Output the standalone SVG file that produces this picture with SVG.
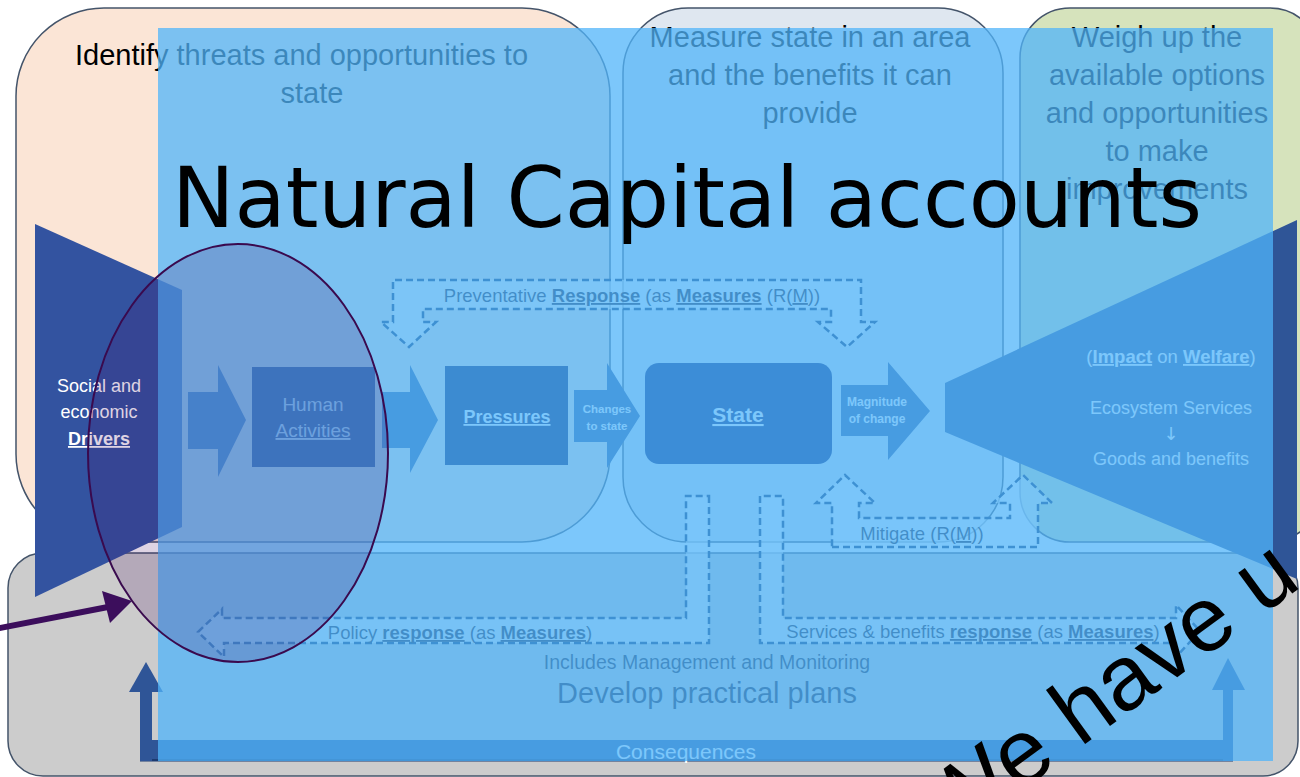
<svg xmlns="http://www.w3.org/2000/svg" width="1300" height="777" viewBox="0 0 1300 777">
<defs>
<style>
.pl{stroke:#44546a;stroke-width:1.5}
.hd{font-family:'Liberation Sans',Arial,sans-serif;font-size:29px;fill:#000;text-anchor:middle}
.nt{font-family:'Liberation Sans',Arial,sans-serif;fill:#fff;text-anchor:middle}
.fl{fill:#2f5597}
.bx{fill:#00105a}
.dl{fill:#fff;fill-opacity:.6;stroke:#0a2860;stroke-width:2.5;stroke-dasharray:7 4}
.lb{font-family:'Liberation Sans',Arial,sans-serif;font-size:18.5px;fill:#1a1a35;text-anchor:middle}
.u{text-decoration:underline}
.b{font-weight:bold}
</style>
</defs>
<rect width="1300" height="777" fill="#fff"/>
<g id="panel-plans"><rect class="pl" x="8" y="553" width="1290" height="223" rx="35" fill="#cccccc"/></g>
<g id="panel-identify"><rect class="pl" x="16" y="8" width="594" height="534" rx="88" fill="#fbe5d6"/>
<text class="hd" x="75" y="65" style="text-anchor:start">Identify threats and opportunities to</text>
<text class="hd" x="312" y="103">state</text></g>
<g id="panel-measure"><rect class="pl" x="623" y="8" width="380" height="534" rx="65" fill="#dfe7f0"/>
<text class="hd" x="810" y="47">Measure state in an area</text>
<text class="hd" x="810" y="85">and the benefits it can</text>
<text class="hd" x="810" y="123">provide</text></g>
<g id="panel-weigh"><rect class="pl" x="1020" y="8" width="300" height="534" rx="50" fill="#d6e3bc"/>
<text class="hd" x="1157" y="47">Weigh up the</text>
<text class="hd" x="1157" y="85">available options</text>
<text class="hd" x="1157" y="123">and opportunities</text>
<text class="hd" x="1157" y="161">to make</text>
<text class="hd" x="1157" y="199">improvements</text></g>
<g id="plans-text">
<text class="lb" x="707" y="669" style="font-size:19.5px">Includes Management and Monitoring</text>
<text class="lb" x="707" y="703" style="font-size:29px">Develop practical plans</text>
</g>
<g id="connectors">
<polygon class="fl" points="188,392 218,392 218,365 246,420 218,477 218,449 188,449"/>
<polygon class="fl" points="382,392 410,392 410,365 438,420 410,473 410,448 382,448"/>
<polygon class="fl" points="574,390 607,390 607,363 640,416 607,468 607,442 574,442"/>
<polygon class="fl" points="841,385 888,385 888,362 930,411 888,460 888,436 841,436"/>
<path class="dl" d="M393 322 L393 280 L861 280 L861 322 L875 322 L847 347 L818 322 L831 322 L831 309 L423 309 L423 322 L436 322 L409 347 L381 322 Z"/>
<path class="dl" d="M709 496 L709 643 L224 643 L224 657 L198 632 L222 609 L222 618 L686 618 L686 496 Z"/>
<path class="dl" d="M760 496 L760 643 L1176 643 L1176 657 L1200 631 L1176 605 L1176 618 L783 618 L783 496 Z"/>
<path class="dl" d="M832 547 L1038 547 L1038 503 L1052 503 L1023 475 L993 503 L1010 503 L1010 518 L859 518 L859 503 L875 503 L845 475 L816 503 L832 503 Z"/>
<rect class="fl" x="140" y="740" width="1093" height="21"/>
<rect x="140" y="759" width="1093" height="2.5" fill="#1c3a70"/>
<rect class="fl" x="140" y="690" width="12" height="71"/>
<polygon class="fl" points="129,692 146,662 163,692"/>
<rect class="fl" x="1223" y="688" width="10" height="73"/>
<polygon class="fl" points="1212,690 1228,658 1245,690"/>
<text class="nt" x="686" y="759" style="font-size:21px">Consequences</text>
<text class="lb" x="632" y="302"><tspan>Preventative </tspan><tspan class="b u">Response</tspan><tspan> (as </tspan><tspan class="b u">Measures</tspan><tspan> (R(</tspan><tspan class="u">M</tspan><tspan>))</tspan></text>
<text class="lb" x="460" y="639"><tspan>Policy </tspan><tspan class="b u">response</tspan><tspan> (as </tspan><tspan class="b u">Measures</tspan><tspan>)</tspan></text>
<text class="lb" x="973" y="638"><tspan>Services &amp; benefits </tspan><tspan class="b u">response</tspan><tspan> (as </tspan><tspan class="b u">Measures</tspan><tspan>)</tspan></text>
<text class="lb" x="922" y="540"><tspan>Mitigate (R(</tspan><tspan class="u">M</tspan><tspan>))</tspan></text>
<text class="nt b" x="607" y="413" style="font-size:11.5px">Changes</text>
<text class="nt b" x="607" y="430" style="font-size:11.5px">to state</text>
<text class="nt b" x="877" y="406" style="font-size:12px">Magnitude</text>
<text class="nt b" x="877" y="423" style="font-size:12px">of change</text>
</g>
<g id="node-drivers"><polygon points="35,224 182,290 182,527 35,597" fill="#3353a0"/>
<text class="nt" x="99" y="392" style="font-size:18px">Social and</text>
<text class="nt" x="99" y="418" style="font-size:18px">economic</text>
<text class="nt b u" x="99" y="445" style="font-size:18px">Drivers</text></g>
<g id="node-activities"><rect class="bx" x="252" y="367" width="123" height="100"/>
<text class="nt" x="313" y="411" style="font-size:19px;fill:#e4ecf6">Human</text>
<text class="nt u" x="313" y="437" style="font-size:19px;fill:#e4ecf6">Activities</text></g>
<g id="node-pressures"><rect class="bx" x="445" y="366" width="123" height="99"/>
<text class="nt b u" x="507" y="423" style="font-size:18px">Pressures</text></g>
<g id="node-state"><rect x="645" y="363" width="187" height="101" rx="14" fill="#001a70"/>
<text class="nt b u" x="738" y="422" style="font-size:21px">State</text></g>
<g id="node-welfare"><polygon points="945,383 1297,220 1297,579 945,432" fill="#2f5597"/>
<text class="nt" x="1171" y="363" style="font-size:18.5px"><tspan>(</tspan><tspan class="b u">Impact</tspan><tspan> on </tspan><tspan class="b u">Welfare</tspan><tspan>)</tspan></text>
<text class="nt" x="1171" y="414" style="font-size:18px">Ecosystem Services</text>
<text class="nt" x="1171" y="440" style="font-size:18px;font-family:'DejaVu Sans',sans-serif">↓</text>
<text class="nt" x="1171" y="465" style="font-size:18px">Goods and benefits</text></g>
<rect id="overlay" x="158" y="28" width="1115" height="733" fill="rgb(80,180,250)" fill-opacity="0.75"/>
<g id="annotations">
<ellipse cx="238" cy="453" rx="150" ry="209" fill="rgb(67,4,95)" fill-opacity="0.175" stroke="#3a0a4e" stroke-width="2"/>
<line x1="-5" y1="629" x2="108" y2="607" stroke="#3c0e5c" stroke-width="6"/>
<polygon points="102,591 132,601 110,623" fill="#3c0e5c"/>
<text x="172" y="227" style="font-family:'DejaVu Sans',Verdana,sans-serif;font-size:83.5px;fill:#000">Natural Capital accounts</text>
<text transform="translate(949,843) rotate(-36)" x="0" y="0" style="font-family:'Liberation Sans',Arial,sans-serif;font-size:92px;fill:#000">We have u</text>
</g>
</svg>
